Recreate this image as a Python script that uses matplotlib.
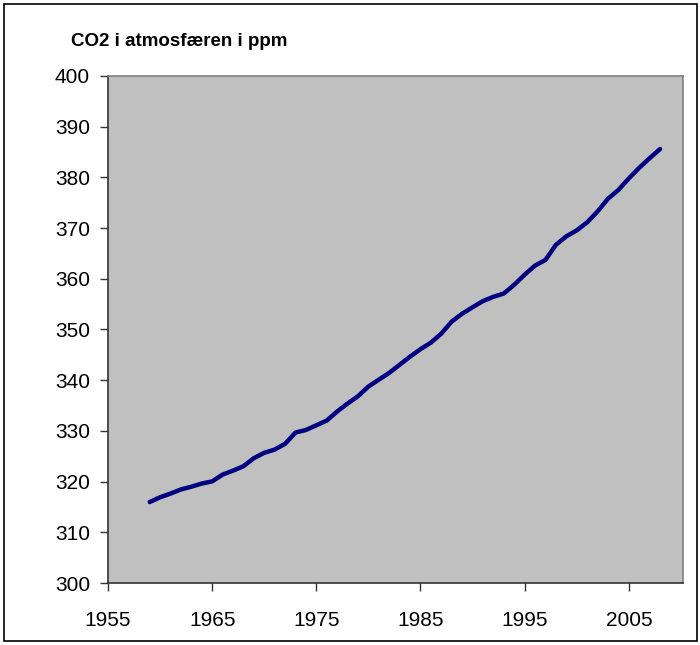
import matplotlib.pyplot as plt
from matplotlib.patches import Rectangle

# Annual mean CO2 (ppm), 1959-2008
years = list(range(1959, 2009))
co2 = [315.97, 316.91, 317.64, 318.45, 318.99, 319.62, 320.04, 321.38, 322.16, 323.04,
       324.62, 325.68, 326.32, 327.45, 329.68, 330.18, 331.11, 332.04, 333.83, 335.40,
       336.84, 338.75, 340.11, 341.45, 343.05, 344.65, 346.12, 347.42, 349.19, 351.57,
       353.12, 354.39, 355.61, 356.45, 357.10, 358.83, 360.82, 362.61, 363.73, 366.70,
       368.38, 369.55, 371.14, 373.28, 375.80, 377.52, 379.80, 381.90, 383.79, 385.60]
xticks = [1955, 1965, 1975, 1985, 1995, 2005]
yticks = list(range(300, 401, 10))

plt.rcParams['font.family'] = ['Liberation Sans', 'DejaVu Sans']

fig = plt.figure(figsize=(7, 6.45), dpi=100)
ax = fig.add_axes([0.1543, 0.0961, 0.8214, 0.7861])
ax.set_facecolor('#c0c0c0')

ax.plot(years, co2, color='#000080', lw=3.2, solid_capstyle='round')

ax.set_xlim(1955, 2010.2)
ax.set_ylim(300, 400)
ax.set_xticks(xticks)
ax.set_yticks(yticks)
ax.tick_params(labelsize=15, length=6, width=1, direction='out', color='#333333')
ax.tick_params(axis='y', pad=7)
ax.tick_params(axis='x', pad=14)

for s in ['left', 'bottom']:
    ax.spines[s].set_color('#333333')
    ax.spines[s].set_linewidth(1.2)
for s in ['top', 'right']:
    ax.spines[s].set_color('#808080')
    ax.spines[s].set_linewidth(1.2)

fig.text(71/700, 1 - 42/645, 'CO2 i atmosfæren i ppm', fontsize=13.5,
         fontweight='bold', va='center', ha='left')

fig.patches.append(Rectangle((4/700, 4/645), 693/700, 637/645, transform=fig.transFigure,
                             fill=False, edgecolor='black', lw=1.2))

fig.savefig('out.png', dpi=100)
